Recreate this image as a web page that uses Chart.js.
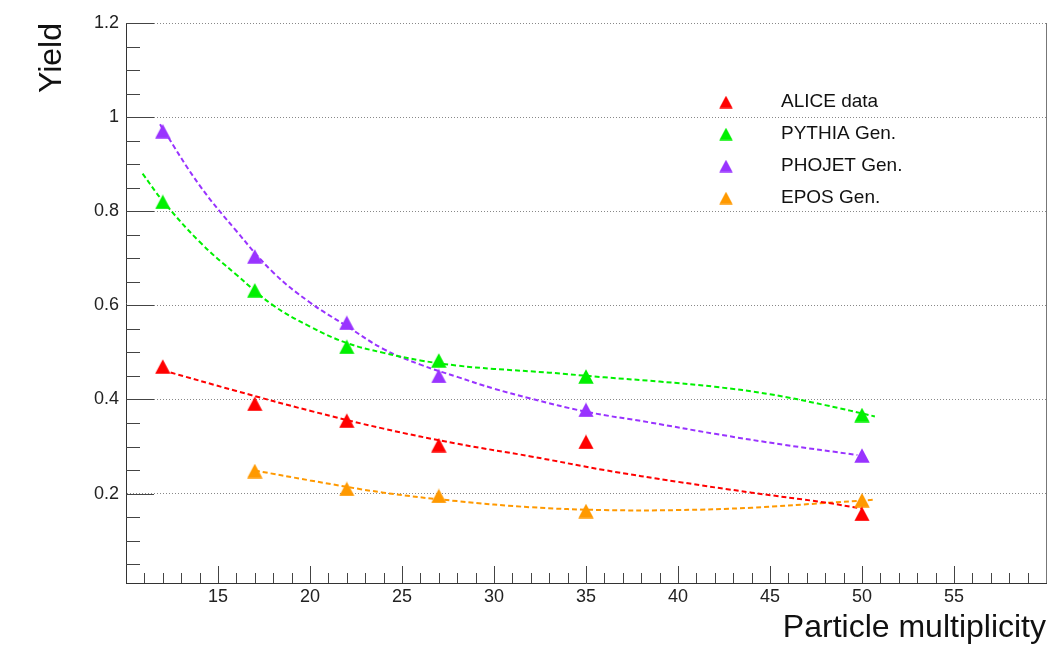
<!DOCTYPE html>
<html>
<head>
<meta charset="utf-8">
<title>Yield vs particle multiplicity</title>
<script src="https://cdn.jsdelivr.net/npm/chart.js@4.4.1/dist/chart.umd.min.js"></script>
<style>
  html, body { margin: 0; padding: 0; background: #fff; }
  #wrap { width: 1055px; height: 647px; position: relative; }
</style>
</head>
<body>
<div id="wrap"><canvas id="yieldChart"></canvas></div>
<script>
// measured yields per multiplicity bin
const multiplicity = [12, 17, 22, 27, 35, 50];
const aliceData = [0.47, 0.391, 0.355, 0.303, 0.31, 0.157];
const pythiaGen = [0.82, 0.632, 0.512, 0.483, 0.449, 0.367];
const phojetGen = [0.97, 0.704, 0.563, 0.45, 0.378, 0.281];
const eposGen = [null, 0.248, 0.21, 0.195, 0.163, 0.186];

// fit curves, sampled along x
const aliceFitX = [12, 16, 20, 24, 28, 32, 36, 40, 44, 48, 50];
const aliceFitY = [0.462, 0.418, 0.376, 0.338, 0.306, 0.279, 0.25, 0.225, 0.202, 0.181, 0.168];
const pythiaFitX = [10.9, 12, 14, 16, 18, 20, 22, 24, 26, 28, 30, 33, 36, 39, 42, 45, 48, 50.7];
const pythiaFitY = [0.88, 0.822, 0.735, 0.665, 0.6, 0.555, 0.52, 0.499, 0.483, 0.472, 0.465, 0.457, 0.447, 0.438, 0.427, 0.411, 0.388, 0.364];
const phojetFitX = [11.85, 12, 14, 16, 18, 20, 22, 24, 26, 28, 30, 32, 35, 38.5, 42, 45.8, 49.75];
const phojetFitY = [0.985, 0.975, 0.855, 0.758, 0.67, 0.606, 0.556, 0.507, 0.474, 0.448, 0.423, 0.402, 0.374, 0.351, 0.327, 0.3035, 0.282];
const eposFitX = [17, 20, 24, 28, 32, 36, 40, 44, 48, 50.7];
const eposFitY = [0.249, 0.228, 0.202, 0.184, 0.171, 0.165, 0.165, 0.17, 0.18, 0.187];

const seriesNames = ['ALICE data', 'PYTHIA Gen.', 'PHOJET Gen.', 'EPOS Gen.'];
const seriesColors = ['#ff0000', '#00f000', '#9933ff', '#ff9900'];

const xTickValues = [15, 20, 25, 30, 35, 40, 45, 50, 55];
const yTickValues = [0.2, 0.4, 0.6, 0.8, 1, 1.2];

const FONT = "'Liberation Sans', Arial, Helvetica, sans-serif";

// filled up-triangle marker as a small canvas
function triangle(color, w, h) {
  const c = document.createElement('canvas');
  c.width = w; c.height = h;
  const g = c.getContext('2d');
  g.fillStyle = color;
  g.beginPath();
  g.moveTo(w / 2, 0.3);
  g.lineTo(w - 0.3, h - 0.3);
  g.lineTo(0.3, h - 0.3);
  g.closePath();
  g.fill();
  return c;
}

function pairs(xs, ys) {
  return xs.map((x, i) => ({x: x, y: ys[i]})).filter(p => p.y !== null);
}

const pointSets = [aliceData, pythiaGen, phojetGen, eposGen];
const fitSets = [[aliceFitX, aliceFitY], [pythiaFitX, pythiaFitY], [phojetFitX, phojetFitY], [eposFitX, eposFitY]];

const markerDatasets = pointSets.map((vals, i) => ({
  label: seriesNames[i],
  data: pairs(multiplicity, vals),
  showLine: false,
  pointStyle: triangle(seriesColors[i], 16, 15),
  pointRadius: 8,
  borderColor: seriesColors[i],
  backgroundColor: seriesColors[i]
}));

const fitDatasets = fitSets.map((f, i) => ({
  label: seriesNames[i] + ' fit',
  data: pairs(f[0], f[1]),
  borderColor: seriesColors[i],
  borderWidth: 2,
  borderDash: [5, 3],
  pointRadius: 0,
  tension: 0.4,
  fill: false
}));

// inward ticks on the frame, long ones on major values, plus the right edge
const frameTicks = {
  id: 'frameTicks',
  beforeDatasetsDraw(chart) {
    const {ctx, chartArea: a, scales: {x, y}} = chart;
    ctx.save();
    ctx.strokeStyle = '#444';
    ctx.lineWidth = 1;
    ctx.beginPath();
    for (let v = 11; v < 60; v++) {
      const px = Math.round(x.getPixelForValue(v)) + 0.5;
      const len = v % 5 === 0 ? 17 : 10;
      ctx.moveTo(px, a.bottom);
      ctx.lineTo(px, a.bottom - len);
    }
    for (let k = 1; k <= 24; k++) {
      const py = Math.round(y.getPixelForValue(k * 0.05)) + 0.5;
      const len = k % 4 === 0 ? 28 : 14;
      ctx.moveTo(a.left, py);
      ctx.lineTo(a.left + len, py);
    }
    ctx.stroke();
    ctx.strokeStyle = '#777';
    ctx.beginPath();
    ctx.moveTo(Math.round(a.right) + 0.5, a.top);
    ctx.lineTo(Math.round(a.right) + 0.5, a.bottom);
    ctx.stroke();
    ctx.restore();
  }
};

// legend box inside the frame, no border
const boxLegend = {
  id: 'boxLegend',
  afterDraw(chart) {
    const ctx = chart.ctx;
    ctx.save();
    ctx.font = '19px ' + FONT;
    ctx.fillStyle = '#111';
    ctx.textBaseline = 'middle';
    ctx.textAlign = 'left';
    seriesNames.forEach((name, i) => {
      const yy = 102 + i * 32;
      const mk = triangle(seriesColors[i], 14, 13);
      ctx.drawImage(mk, 726 - 7, yy - 6.5);
      ctx.fillText(name, 781, yy);
    });
    ctx.restore();
  }
};

new Chart(document.getElementById('yieldChart'), {
  type: 'line',
  data: { datasets: markerDatasets.concat(fitDatasets) },
  options: {
    responsive: true,
    maintainAspectRatio: false,
    animation: false,
    events: [],
    layout: { padding: { left: 0, right: 6, top: 23, bottom: 0 } },
    plugins: {
      legend: { display: false },
      tooltip: { enabled: false }
    },
    scales: {
      x: {
        type: 'linear',
        min: 10,
        max: 60,
        afterBuildTicks: s => { s.ticks = xTickValues.map(v => ({value: v})); },
        afterFit: s => { s.height = 64; },
        grid: { display: false, drawTicks: false },
        border: { color: '#333', width: 1 },
        ticks: { padding: 3, color: '#222', maxRotation: 0, autoSkip: false, font: { family: FONT, size: 18 } },
        title: {
          display: true,
          text: 'Particle multiplicity',
          align: 'end',
          color: '#111',
          font: { family: FONT, size: 32 },
          padding: { top: 0, bottom: 0 }
        }
      },
      y: {
        min: 0.01,
        max: 1.2,
        afterBuildTicks: s => { s.ticks = yTickValues.map(v => ({value: v})); },
        afterFit: s => { s.width = 126; },
        grid: { drawTicks: false, color: '#888', lineWidth: 1 },
        border: { color: '#333', width: 1, dash: [1, 2] },
        ticks: {
          padding: 7,
          color: '#222',
          font: { family: FONT, size: 18 },
          callback: v => String(Math.round(v * 10) / 10)
        },
        title: {
          display: true,
          text: 'Yield',
          align: 'end',
          color: '#111',
          font: { family: FONT, size: 32 },
          padding: { top: 33, bottom: 0 }
        }
      }
    }
  },
  plugins: [frameTicks, boxLegend]
});
</script>
</body>
</html>
